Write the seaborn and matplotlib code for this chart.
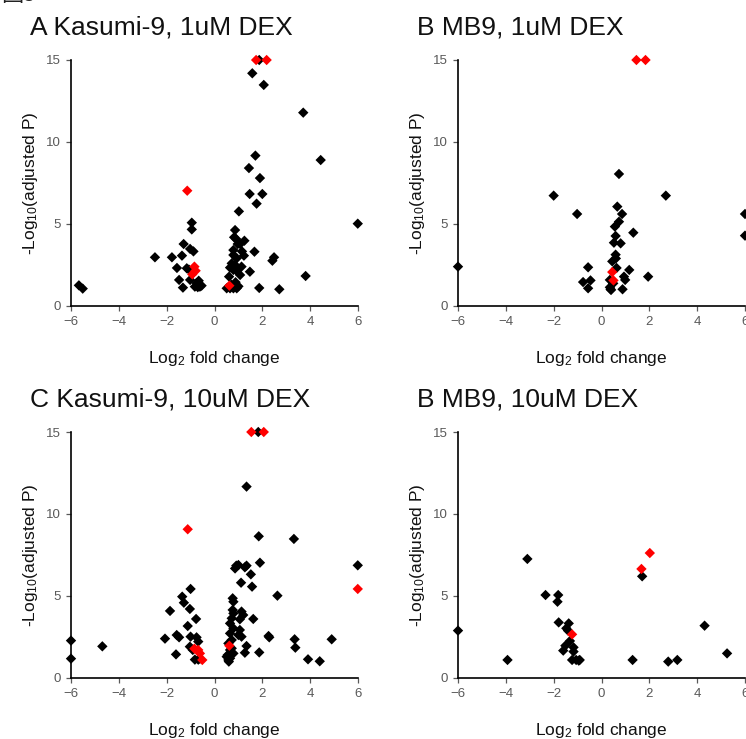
import numpy as np
import pandas as pd
import matplotlib
matplotlib.use("Agg")
import matplotlib.pyplot as plt
import seaborn as sns

sns.set_style("white")
plt.rcParams['font.family'] = ['Liberation Sans', 'DejaVu Sans']
plt.rcParams['mathtext.default'] = 'regular'

# ---------------- data ----------------
titles = ["A Kasumi-9, 1uM DEX", "B MB9, 1uM DEX", "C Kasumi-9, 10uM DEX", "B MB9, 10uM DEX"]
x_ticks = [-6, -4, -2, 0, 2, 4, 6]
y_ticks = [0, 5, 10, 15]

# Panel A
A_black_x = [1.87, 1.58, 2.06, 3.71, 4.44, 1.71, 1.44, 1.90, 1.47, 2.00, 1.76, 1.02, 5.99,
             -0.95, -0.95, -1.29, -1.02, -0.88, -2.49, -1.78, -1.36, -1.57, -1.16, -1.07,
             -1.48, -1.02, -0.66, -1.32, -0.82, -0.61, -0.54, -5.67, -5.51, -0.75, -0.70,
             0.51, 0.65, 0.79, 0.93, 0.61, 0.86, 0.82, 0.90, 0.97, 1.25, 1.07, 0.79, 1.15,
             1.23, 0.79, 0.93, 0.72, 0.86, 1.13, 0.65, 0.79, 0.93, 1.07, 1.48, 1.67, 2.42,
             2.49, 1.87, 2.71, 3.81, 0.70, 0.88, 1.00]
A_black_y = [15.0, 14.19, 13.48, 11.79, 8.90, 9.17, 8.41, 7.80, 6.83, 6.83, 6.24, 5.77, 5.02,
             5.08, 4.67, 3.78, 3.48, 3.33, 2.97, 2.97, 3.07, 2.32, 2.30, 2.22,
             1.59, 1.59, 1.54, 1.12, 1.18, 1.18, 1.24, 1.26, 1.06, 1.40, 1.15,
             1.08, 1.08, 1.08, 1.08, 1.79, 4.63, 4.19, 4.10, 3.78, 3.98, 3.78, 3.41, 3.33,
             3.07, 3.11, 2.91, 2.60, 2.50, 2.40, 2.34, 2.20, 2.13, 1.89, 2.09, 3.31, 2.76,
             2.97, 1.10, 1.02, 1.83, 1.30, 1.45, 1.20]
A_red_x = [1.74, 2.18, -1.14, -0.84, -0.79, -0.93, 0.62]
A_red_y = [15.0, 15.0, 7.03, 2.40, 2.15, 1.93, 1.24]

# Panel B
B_black_x = [-6.0, -2.0, -1.02, 2.69, 6.0, 6.0, 0.73, 0.66, 0.86, 0.73, 0.56, 1.33, 0.59,
             0.52, 0.80, 0.59, 0.45, 0.63, 1.16, -0.56, -0.77, -0.46, -0.56, 0.38, 0.35,
             0.88, 0.99, 0.94, 1.95, 0.35, 0.49, 0.40, 0.60]
B_black_y = [2.40, 6.73, 5.61, 6.73, 5.61, 4.29, 8.05, 6.06, 5.61, 5.14, 4.84, 4.47, 4.27,
             3.86, 3.82, 3.13, 2.72, 2.32, 2.20, 2.36, 1.46, 1.56, 1.08, 1.02, 1.14,
             1.02, 1.59, 1.79, 1.79, 1.59, 1.38, 0.98, 2.90]
B_red_x = [1.46, 1.84, 0.45, 0.50]
B_red_y = [15.0, 15.0, 2.07, 1.56]

# Panel C
C_black_x = [1.83, 1.34, 1.85, 3.32, 5.99, 1.90, 0.91, 1.00, 0.86, 1.34, 1.27, 1.52, 1.11,
             1.57, 2.63, -1.00, -1.35, -1.28, -1.03, -1.86, 0.76, 0.79,
             0.76, 0.79, 0.72, 1.13, 1.20, 1.06, 0.65, 0.79, 1.06, 0.65, 1.00, 1.13, 0.72,
             0.58, 0.65, 0.51, 0.58, 0.65, 0.79, 0.72, 1.34, 1.27, 1.62,
             -0.77, -1.12, -2.07, -1.58, -1.48, -1.00, -0.75, -0.68, -1.03, -0.91, -1.61,
             -0.82, -0.68, -0.61, -6.0, -6.0, -4.69, 2.26, 2.29, 1.87, 3.35, 3.38, 3.91,
             4.40, 4.90, 0.55, 0.60]
C_black_y = [15.0, 11.67, 8.64, 8.48, 6.87, 7.03, 6.85, 6.89, 6.68, 6.85, 6.75, 6.32, 5.81,
             5.57, 5.02, 5.43, 4.96, 4.59, 4.21, 4.09, 4.86, 4.65,
             4.15, 3.94, 3.64, 4.05, 3.84, 3.58, 3.33, 3.03, 2.93, 2.72, 2.62, 2.52, 2.32,
             2.11, 1.71, 1.30, 1.10, 1.20, 1.50, 1.81, 1.95, 1.54, 3.60,
             3.60, 3.17, 2.40, 2.62, 2.48, 2.52, 2.48, 2.22, 1.91, 1.71, 1.44,
             1.12, 1.12, 1.18, 2.28, 1.18, 1.93, 2.56, 2.48, 1.56, 2.36, 1.85, 1.14,
             1.02, 2.36, 1.40, 1.00]
C_red_x = [1.54, 2.06, -1.12, 5.99, -0.84, -0.68, -0.61, -0.51, 0.62]
C_red_y = [15.0, 15.0, 9.07, 5.43, 1.79, 1.71, 1.50, 1.10, 1.97]

# Panel D
D_black_x = [-6.0, -3.93, -3.10, -2.34, -1.81, -1.84, -1.79, -1.37, -1.47, -1.40, -1.32,
             -1.51, -1.60, -1.17, -1.17, -1.23, -1.06, -0.95, -0.91, 1.30, 1.70, 2.79,
             3.17, 4.31, 5.25]
D_black_y = [2.89, 1.10, 7.26, 5.06, 5.06, 4.65, 3.39, 3.33, 3.03, 2.89, 2.26,
             1.97, 1.67, 1.87, 1.61, 1.10, 1.10, 1.06, 1.10, 1.10, 6.20, 1.00,
             1.10, 3.19, 1.50]
D_red_x = [-1.23, 1.67, 2.02]
D_red_y = [2.66, 6.65, 7.62]

panels = [
    (A_black_x, A_black_y, A_red_x, A_red_y),
    (B_black_x, B_black_y, B_red_x, B_red_y),
    (C_black_x, C_black_y, C_red_x, C_red_y),
    (D_black_x, D_black_y, D_red_x, D_red_y),
]

# ---------------- layout ----------------
W, H = 746, 739
fig = plt.figure(figsize=(W / 100, H / 100), dpi=100)

ax_boxes = [  # left, top, right, bottom in px
    (71, 60, 358, 306),
    (458, 60, 745, 306),
    (71, 432, 358, 678),
    (458, 432, 745, 678),
]
title_pos = [(30, 34), (417, 34), (30, 406), (417, 406)]
ylabel_x = [30, 417, 30, 417]
xlabel_y = [358, 358, 730, 730]

tick_gray = '#595959'

# partially visible figure caption at the very top-left edge
fig.text(1 / W, 1 - 1 / H, '图3', fontsize=16, ha='left', va='baseline',
         family=['Noto Sans CJK SC', 'DejaVu Sans'], color='#222222')

for i, (bx, by, rx, ry) in enumerate(panels):
    l, t, r, b = ax_boxes[i]
    ax = fig.add_axes([l / W, 1 - b / H, (r - l) / W, (b - t) / H])
    df = pd.DataFrame({
        'lfc': list(bx) + list(rx),
        'p': list(by) + list(ry),
        'sig': ['no'] * len(bx) + ['yes'] * len(rx),
    })
    sns.scatterplot(data=df, x='lfc', y='p', hue='sig',
                    palette={'no': 'black', 'yes': '#ff0000'},
                    marker='D', s=28, linewidth=0, legend=False, ax=ax)
    for coll in ax.collections:
        coll.set_clip_on(False)
    ax.set_xlim(-6, 6)
    ax.set_ylim(0, 15)
    ax.set_xticks(x_ticks)
    ax.set_yticks(y_ticks)
    ax.set_xlabel('')
    ax.set_ylabel('')
    for side in ['top', 'right']:
        ax.spines[side].set_visible(False)
    for side in ['left', 'bottom']:
        ax.spines[side].set_color('black')
        ax.spines[side].set_linewidth(1.2)
    ax.tick_params(axis='both', which='major', direction='out', length=3.5, width=0.9,
                   color=tick_gray, labelcolor=tick_gray, labelsize=9.5, pad=4,
                   bottom=True, left=True)
    ax.set_facecolor('white')

    tx, ty = title_pos[i]
    fig.text(tx / W, 1 - ty / H, titles[i], fontsize=19, ha='left', va='baseline', color='#111111')
    fig.text(ylabel_x[i] / W, 1 - ((t + b) / 2) / H, '-Log$_{10}$(adjusted P)',
             rotation=90, ha='center', va='center', fontsize=12.5, color='#111111')
    fig.text(((l + r) / 2) / W, 1 - xlabel_y[i] / H, 'Log$_2$ fold change',
             ha='center', va='center', fontsize=12.5, color='#111111')

fig.savefig('out.png', dpi=100, facecolor='white')
